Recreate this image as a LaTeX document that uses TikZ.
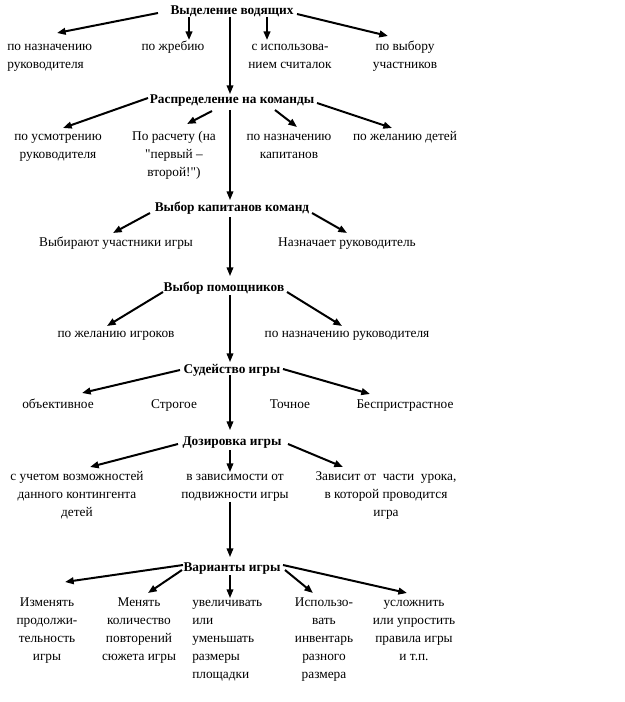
\documentclass[tikz,border=0pt]{standalone}
\usepackage{fontspec}
\setmainfont{Liberation Serif}
\newfontfamily\plainq{Liberation Serif}
\usetikzlibrary{arrows.meta,calc}
\begin{document}
\begin{tikzpicture}[x=0.75pt,y=-0.75pt,
  txt/.style={inner sep=0pt, font=\fontsize{10}{13.5}\selectfont, align=center, anchor=north},
  txl/.style={txt, align=left, anchor=north west},
  head/.style={inner sep=0pt, font=\fontsize{10}{13.5}\selectfont\bfseries},
  arr/.style={line width=1.5pt, -{Triangle[length=6.5pt,width=5pt]}},
  trunk/.style={line width=1.1pt, -{Triangle[length=6.5pt,width=5pt]}}]
\fill[white] (0,0) rectangle (624,702);
\useasboundingbox (0,0) rectangle (624,702);

% headings
\node[head] (h1) at (232,11) {\strut Выделение водящих};
\node[head] (h2) at (232,100) {\strut Распределение на команды};
\node[head] (h3) at (232,208) {\strut Выбор капитанов команд};
\node[head] (h4) at (224,288) {\strut Выбор помощников};
\node[head] (h5) at (232,370) {\strut Судейство игры};
\node[head] (h6) at (232,442) {\strut Дозировка игры};
\node[head] (h7) at (232,568) {\strut Варианты игры};

% level 1
\node[txl] (a1) at (7,38) {\strut по назначению\\руководителя};
\node[txt] (a2) at (173,38) {\strut по жребию};
\node[txt] (a3) at (290,38) {\strut с использова-\\нием считалок};
\node[txt] (a4) at (405,38) {\strut по выбору\\участников};
% level 2
\node[txt] (b1) at (58,128) {\strut по усмотрению\\руководителя};
\node[txt] (b2) at (174,128) {\strut По расчету (на\\{\plainq"}первый –\\второй!{\plainq"})};
\node[txt] (b3) at (289,128) {\strut по назначению\\капитанов};
\node[txt] (b4) at (405,128) {\strut по желанию детей};
% level 3
\node[txt] (c1) at (116,234) {\strut Выбирают участники игры};
\node[txt] (c2) at (347,234) {\strut Назначает руководитель};
% level 4
\node[txt] (d1) at (116,325) {\strut по желанию игроков};
\node[txt] (d2) at (347,325) {\strut по назначению руководителя};
% level 5
\node[txt] (e1) at (58,396) {\strut объективное};
\node[txt] (e2) at (174,396) {\strut Строгое};
\node[txt] (e3) at (290,396) {\strut Точное};
\node[txt] (e4) at (405,396) {\strut Беспристрастное};
% level 6
\node[txt] (f1) at (77,468) {\strut с учетом возможностей\\данного контингента\\детей};
\node[txt] (f2) at (235,468) {\strut в зависимости от\\подвижности игры};
\node[txt] (f3) at (386,468) {\strut Зависит от \ части \ урока,\\в которой проводится\\игра};
% level 7
\node[txt] (g1) at (47,594) {\strut Изменять\\продолжи-\\тельность\\игры};
\node[txt] (g2) at (139,594) {\strut Менять\\количество\\повторений\\сюжета игры};
\node[txl] (g3) at (192,594) {\strut увеличивать\\или\\уменьшать\\размеры\\площадки};
\node[txt] (g4) at (324,594) {\strut Использо-\\вать\\инвентарь\\разного\\размера};
\node[txt] (g5) at (414,594) {\strut усложнить\\или упростить\\правила игры\\и т.п.};

% arrows from h1
\draw[arr] ($(h1)+(-74,2)$) -- ($(a1.north west)+(50,-5)$);
\draw[arr] ($(h1)+(-43,6)$) -- ($(a2.north)+(16,2)$);
\draw[arr] ($(h1)+(35,6)$) -- ($(a3.north)+(-23,2)$);
\draw[arr] ($(h1)+(65,3)$) -- ($(a4.north)+(-17,-2)$);
\draw[trunk] ($(h1)+(-2,6)$) -- ($(h2)+(-2,-6)$);
% from h2
\draw[arr] ($(h2)+(-84,-2)$) -- ($(b1.north)+(5,0)$);
\draw[arr] ($(h2)+(-20,11)$) -- ($(b2.north)+(13,-4)$);
\draw[arr] ($(h2)+(43,10)$) -- ($(b3.north)+(8,-1)$);
\draw[arr] ($(h2)+(85,3)$) -- ($(b4.north)+(-13,0)$);
\draw[trunk] ($(h2)+(-2,10)$) -- ($(h3)+(-2,-8)$);
% from h3
\draw[arr] ($(h3)+(-82,5)$) -- ($(c1.north)+(-3,-1)$);
\draw[arr] ($(h3)+(80,5)$) -- ($(c2.north)+(0,-1)$);
\draw[trunk] ($(h3)+(-2,9)$) -- ($(h4)+(6,-12)$);
% from h4
\draw[arr] ($(h4)+(-61,4)$) -- ($(d1.north)+(-9,1)$);
\draw[arr] ($(h4)+(63,4)$) -- ($(d2.north)+(-5,1)$);
\draw[trunk] ($(h4)+(6,7)$) -- ($(h5)+(-2,-8)$);
% from h5
\draw[arr] ($(h5)+(-52,0)$) -- ($(e1.north)+(24,-3)$);
\draw[arr] ($(h5)+(51,-1)$) -- ($(e4.north)+(-35,-2)$);
\draw[trunk] ($(h5)+(-2,5)$) -- ($(h6)+(-2,-12)$);
% from h6
\draw[arr] ($(h6)+(-54,2)$) -- ($(f1.north)+(13,-1)$);
\draw[trunk] ($(h6)+(-2,8)$) -- ($(f2.north)+(-5,4)$);
\draw[arr] ($(h6)+(56,2)$) -- ($(f3.north)+(-43,-1)$);
\draw[trunk] ($(f2.south)+(-5,0)$) -- ($(h7)+(-2,-11)$);
% from h7
\draw[arr] ($(h7)+(-49,-3)$) -- ($(g1.north)+(18,-12)$);
\draw[arr] ($(h7)+(-50,2)$) -- ($(g2.north)+(9,-1)$);
\draw[trunk] ($(h7)+(-2,7)$) -- ($(g3.north west)+(38,4)$);
\draw[arr] ($(h7)+(53,2)$) -- ($(g4.north)+(-11,-1)$);
\draw[arr] ($(h7)+(51,-3)$) -- ($(g5.north)+(-7,-1)$);
\end{tikzpicture}
\end{document}
